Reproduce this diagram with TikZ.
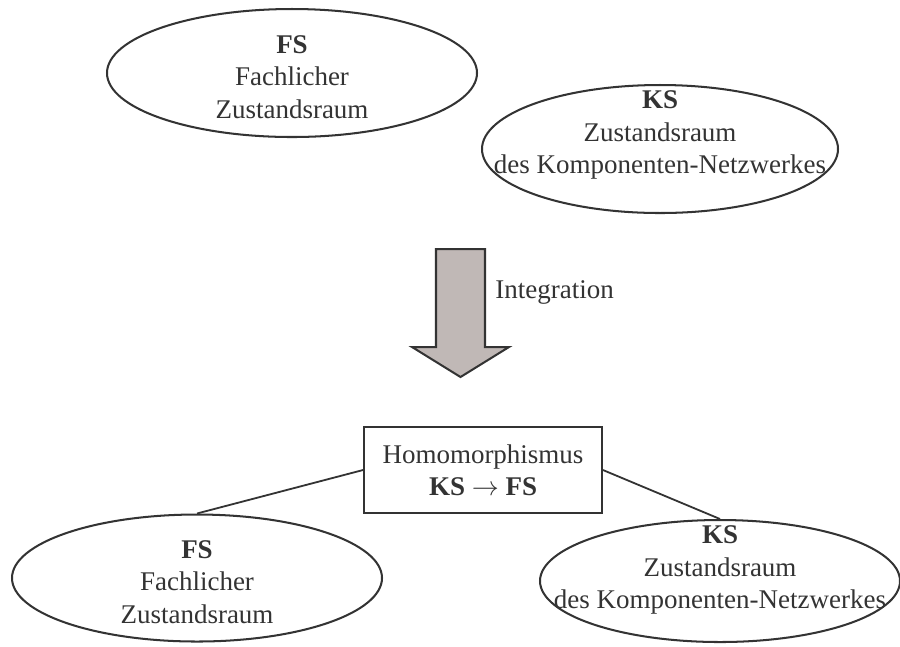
\documentclass[tikz,border=0pt]{standalone}
\usepackage{fontspec}
\setmainfont{Liberation Serif}
\usetikzlibrary{shapes.geometric}
\definecolor{inkGray}{RGB}{51,51,51}
\definecolor{arrowFill}{RGB}{192,184,182}

\begin{document}
\begin{tikzpicture}[x=0.015625cm,y=-0.015625cm,
  zone/.style={draw=inkGray,ellipse,line width=0.9pt,inner sep=0pt},
  zonetext/.style={align=center,inner sep=0pt,text=inkGray,font=\fontsize{12}{14.4}\selectfont},
  mapbox/.style={draw=inkGray,rectangle,line width=0.8pt,align=center,text=inkGray,
    font=\fontsize{12}{14.4}\selectfont,minimum width=3.72cm,minimum height=1.34cm},
  link/.style={draw=inkGray,line width=0.8pt}]
  \def\px{0.015625cm}
  \useasboundingbox (0,0) rectangle (900,646);
  % state spaces, before and after the integration
  \foreach \nm/\cx/\cy/\rw/\rh/\dy/\txt in {
    fsTop/292/73/370/128/-4/{\textbf{FS}\\Fachlicher\\Zustandsraum},
    ksTop/660/149/356/128/14/{\textbf{KS}\\Zustandsraum\\des Komponenten-Netzwerkes},
    fsBottom/197/578/370/127/-4/{\textbf{FS}\\Fachlicher\\Zustandsraum},
    ksBottom/720/581/360/122/11/{\textbf{KS}\\Zustandsraum\\des Komponenten-Netzwerkes}}{
    \node[zone,minimum width=\rw*\px,minimum height=\rh*\px] (\nm) at (\cx,\cy) {};
    \node[zonetext] (\nm-text) at ([yshift=\dy*\px]\nm.center) {\txt};
  }
  % integration step
  \filldraw[fill=arrowFill,draw=inkGray,line width=0.9pt,line join=miter]
    (436,249) -- (485,249) -- (485,347) -- (509,347) -- (460.5,377)
    -- (412,347) -- (436,347) -- cycle;
  \node[anchor=base west,inner sep=0pt,text=inkGray,font=\fontsize{12}{14.4}\selectfont]
    (integrationLabel) at (495,298) {Integration};
  % mapping box
  \node[mapbox] (homBox) at (483,470) {Homomorphismus\\\textbf{KS} $\rightarrow$ \textbf{FS}};
  \draw[link] (homBox.west) -- (fsBottom.north);
  \draw[link] (homBox.east) -- (ksBottom.north);
\end{tikzpicture}
\end{document}
